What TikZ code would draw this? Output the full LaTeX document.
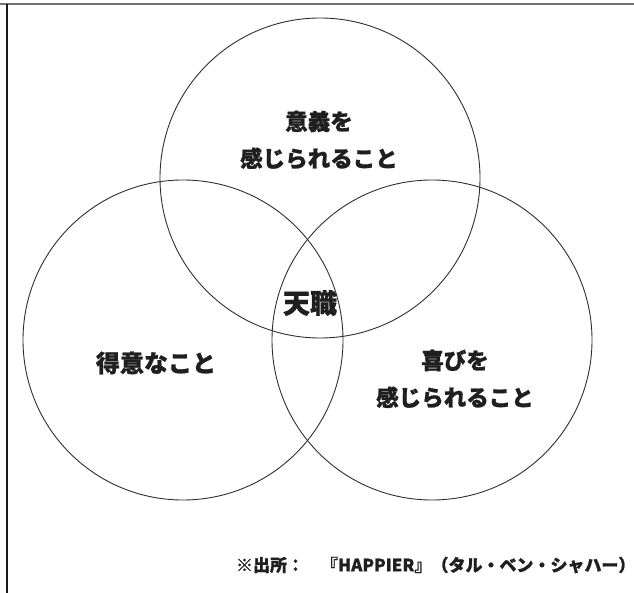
\documentclass[tikz,border=0pt]{standalone}
\usepackage{fontspec}
\usepackage{tikz}
\newfontfamily\jp{Noto Sans CJK JP}[BoldFeatures={FakeBold=1}]

\begin{document}
\begin{tikzpicture}[x=1pt,y=-1pt]
    \tikzstyle{ring}=[circle,draw=black!82,line width=0.9pt,minimum size=320pt,inner sep=0pt]
    \tikzstyle{label}=[text=black!88,align=center,font=\jp\bfseries\fontsize{22.5}{37}\selectfont]
    \useasboundingbox (0,0) rectangle (634,593);
    % frame
    \draw[black!55,line width=2pt] (0,4.5) -- (634,4.5);
    \draw[black!90,line width=1.2pt] (7,4.5) -- (7,593);

    \foreach \name/\x/\y in {meaning/320/178, skill/183/340, joy/432/340}
        \node[ring] (\name) at (\x,\y) {};

    \node[label] (meaningtext) at (319,140) {意義を\\感じられること};
    \node[label,font=\jp\bfseries\fontsize{24}{30}\selectfont] (skilltext) at (156,363) {得意なこと};
    \node[label] (joytext) at (455,379) {喜びを\\感じられること};
    \node[label,font=\jp\bfseries\fontsize{27}{30}\selectfont] (calling) at (310,303) {天職};

    \node[anchor=east,text=black!88,font=\jp\bfseries\fontsize{17}{20}\selectfont] (source) at (639,565) {※出所：　『HAPPIER』（タル・ベン・シャハー）};
\end{tikzpicture}
\end{document}
